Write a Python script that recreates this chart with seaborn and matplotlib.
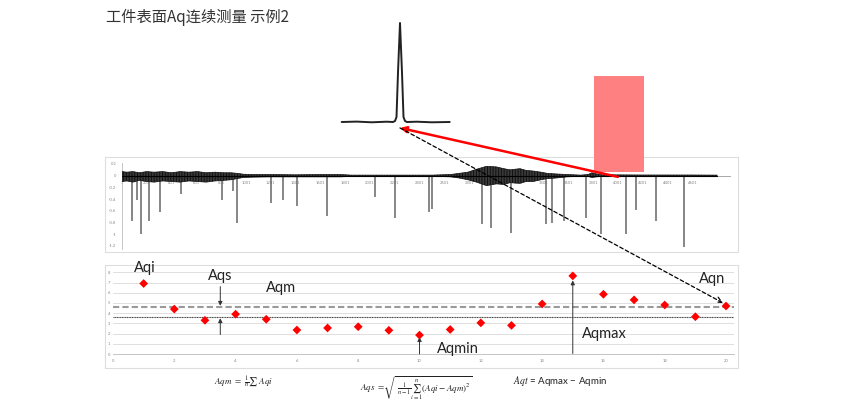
import numpy as np
import pandas as pd
import seaborn as sns
import matplotlib
matplotlib.use("Agg")
import matplotlib.pyplot as plt
from matplotlib.patches import Rectangle, ConnectionPatch

# ---------------- data ----------------
title = "工件表面Aq连续测量 示例2"

# zoomed single peak (inset), x in samples, y normalised height
peak_x = [0, 15, 30, 45, 51.3, 53.3, 54.8, 56.3, 58.3, 60.3, 61.8, 63.3, 65.3, 75, 90, 108]
peak_y = [0, 0.004, -0.003, 0.003, 0.0, 0.01, 0.05, 0.5, 1.0, 0.5, 0.05, 0.01, 0.0, 0.003, -0.003, 0.0]

# continuous trace: envelope of the noise band
noise_x = [1, 40, 90, 140, 200, 260, 330, 400, 470, 540, 610, 680, 750, 820, 880, 930, 980,
           1050, 1200, 1400, 1600, 1760, 1850, 2200, 2500, 2650, 2720, 2790, 2860, 2940, 3020,
           3080, 3130, 3210, 3260, 3315, 3380, 3430, 3500, 3590, 3700, 3760, 3790, 3830, 3870,
           4200, 4600, 4800]
noise_hi = [0.07, 0.06, 0.07, 0.05, 0.07, 0.06, 0.07, 0.05, 0.07, 0.06, 0.07, 0.05, 0.06, 0.05,
            0.05, 0.04, 0.025, 0.02, 0.02, 0.015, 0.02, 0.02, 0.01, 0.01, 0.01, 0.02, 0.04, 0.06,
            0.11, 0.16, 0.15, 0.12, 0.10, 0.12, 0.09, 0.08, 0.06, 0.04, 0.03, 0.02, 0.01, 0.02,
            0.05, 0.03, 0.015, 0.012, 0.012, 0.01]
noise_lo = [-0.10, -0.09, -0.11, -0.08, -0.10, -0.11, -0.09, -0.10, -0.11, -0.09, -0.10, -0.11,
            -0.09, -0.08, -0.07, -0.05, -0.03, -0.025, -0.02, -0.02, -0.02, -0.02, -0.012, -0.01,
            -0.01, -0.02, -0.04, -0.07, -0.11, -0.17, -0.14, -0.15, -0.12, -0.13, -0.10, -0.10,
            -0.07, -0.05, -0.04, -0.02, -0.01, -0.015, -0.03, -0.02, -0.012, -0.012, -0.012, -0.01]

# negative spikes (position, depth)
spike_x = [82, 122, 154, 219, 307, 477, 807, 895, 928, 1202, 1299, 1412, 1654, 2041, 2202,
           2475, 2501, 2904, 2975, 3138, 3418, 3469, 3563, 3743, 3864, 4066, 4144, 4305, 4533]
spike_y = [-0.78, -0.41, -1.0, -0.77, -0.62, -0.31, -0.41, -0.26, -0.8, -0.46, -0.41, -0.51,
           -0.69, -0.36, -0.73, -0.62, -0.57, -0.82, -0.89, -0.97, -0.82, -0.8, -0.78, -0.72,
           -0.99, -0.99, -0.58, -0.78, -1.22]
signal_xticks = list(range(1, 4602, 200))
signal_yticks = [0.2, 0, -0.2, -0.4, -0.6, -0.8, -1, -1.2]
signal_ylabels = ["0.2", "0", "-0.2", "-0.4", "-0.6", "-0.8", "-1", "-1.2"]
highlight = (3808, 4210)

# Aq per measurement
aq_n = list(range(1, 21))
aqi = [6.9, 4.4, 3.3, 3.9, 3.4, 2.35, 2.55, 2.67, 2.32, 1.85,
       2.4, 3.05, 2.8, 4.9, 7.65, 5.85, 5.3, 4.8, 3.65, 4.7]
aqm_level = 3.65
aqs_level = 4.65

# ---------------- figure ----------------
sns.set_style("white")
plt.rcParams["font.family"] = ["Lato", "Noto Sans CJK SC", "DejaVu Sans"]
plt.rcParams["mathtext.fontset"] = "stix"
plt.rcParams["hatch.linewidth"] = 0.7
plt.rcParams["hatch.color"] = "black"

W, H = 850, 411
fig = plt.figure(figsize=(W / 100, H / 100), dpi=100)


def add_ax(left, right, top, bottom):
    return fig.add_axes([left / W, 1 - bottom / H, (right - left) / W, (bottom - top) / H])


# panel frames
for (x0, y0, x1, y1) in [(105, 157, 738, 252), (105, 265, 738, 368)]:
    fig.add_artist(Rectangle((x0 / W, 1 - y1 / H), (x1 - x0) / W, (y1 - y0) / H,
                             transform=fig.transFigure, fill=False, ec="#dddddd", lw=0.8, zorder=-1))

fig.text(106 / W, 1 - 17 / H, title, fontsize=11, color="#333333", va="center",
         family=["Noto Sans CJK SC", "DejaVu Sans"])

# ---- inset peak ----
ax_pk = add_ax(338, 452, 18, 132)
sns.lineplot(x=peak_x, y=peak_y, ax=ax_pk, color="#222222", lw=1.4)
ax_pk.set_xlim(-3.7, 110.3)
ax_pk.set_ylim(-0.101, 1.0505)
ax_pk.axis("off")

# ---- continuous signal ----
ax_sig = add_ax(122, 730, 162.8, 248.9)
ax_sig.set_xlim(1, 4904)
ax_sig.set_ylim(-1.25, 0.22)
ax_sig.add_patch(Rectangle((highlight[0], 0.06), highlight[1] - highlight[0], 1.65,
                           color="#ff8080", lw=0, clip_on=False, zorder=1))
ax_sig.vlines(spike_x, 0, spike_y, color="#666666", lw=1.1, zorder=2)
ax_sig.fill_between(noise_x, noise_lo, noise_hi, facecolor="#3a3a3a", edgecolor="#111111",
                    hatch="||||||", lw=0.5, zorder=3)
ax_sig.plot([1, 4800], [0, 0], color="black", lw=0.8, zorder=3)
for s in ["top", "right"]:
    ax_sig.spines[s].set_visible(False)
ax_sig.spines["bottom"].set_position(("data", 0))
ax_sig.spines["bottom"].set_color("#999999")
ax_sig.spines["bottom"].set_linewidth(0.6)
ax_sig.spines["left"].set_color("#bbbbbb")
ax_sig.spines["left"].set_linewidth(0.6)
ax_sig.set_xticks(signal_xticks)
ax_sig.set_xticklabels([str(v) for v in signal_xticks])
ax_sig.set_yticks(signal_yticks)
ax_sig.set_yticklabels(signal_ylabels)
ax_sig.tick_params(axis="both", labelsize=3, colors="#888888", length=1.5, width=0.4, pad=2.5)

# ---- Aq scatter ----
ax_sc = add_ax(113, 733.7, 272.3, 354)
ax_sc.set_xlim(0, 20.25)
ax_sc.set_ylim(0, 8)
ax_sc.set_yticks(range(0, 9))
ax_sc.set_xticks(range(0, 21, 2))
ax_sc.grid(axis="y", color="#d9d9d9", lw=0.6)
ax_sc.grid(axis="x", visible=False)
for s in ["top", "right", "left"]:
    ax_sc.spines[s].set_visible(False)
ax_sc.spines["bottom"].set_color("#bbbbbb")
ax_sc.spines["bottom"].set_linewidth(0.6)
ax_sc.tick_params(axis="both", labelsize=3, colors="#888888", length=1.5, width=0.4, pad=2)
ax_sc.tick_params(axis="y", length=0)

ax_sc.axhline(aqs_level, color="#9a9a9a", lw=1.5, ls=(0, (3, 1.5)), zorder=2)
ax_sc.axhline(aqm_level, color="#444444", lw=0.8, ls=(0, (1, 0.5)), zorder=2)
sns.scatterplot(x=aq_n, y=aqi, ax=ax_sc, marker="D", color="red", s=20,
                edgecolor="none", zorder=5, clip_on=False)

arr = dict(arrowstyle="-|>", color="#333333", lw=0.7, mutation_scale=6, shrinkA=0, shrinkB=0)
ax_sc.annotate("", xy=(3.5, 4.72), xytext=(3.5, 6.6), arrowprops=arr)
ax_sc.annotate("", xy=(3.5, 3.5), xytext=(3.5, 1.9), arrowprops=arr)
ax_sc.annotate("", xy=(10, 1.65), xytext=(10, 0.0), arrowprops=arr, annotation_clip=False)
ax_sc.annotate("", xy=(15, 7.2), xytext=(15, 0.05), arrowprops=arr)

lab = dict(fontsize=10.5, color="#222222", ha="center", va="center", clip_on=False)
ax_sc.text(1.04, 8.4, "Aqi", **lab)
ax_sc.text(3.49, 7.64, "Aqs", **lab)
ax_sc.text(5.48, 6.46, "Aqm", **lab)
ax_sc.text(11.26, 0.49, "Aqmin", **lab)
ax_sc.text(16.02, 1.96, "Aqmax", **lab)
ax_sc.text(19.54, 7.35, "Aqn", **lab)

# ---- connecting arrows ----
red = ConnectionPatch(xyA=(4000, -0.02), coordsA=ax_sig.transData,
                      xyB=(58.3, -0.06), coordsB=ax_pk.transData,
                      arrowstyle="-|>", color="red", lw=1.8, mutation_scale=9,
                      shrinkA=0, shrinkB=0, zorder=6)
fig.add_artist(red)
dash = ConnectionPatch(xyA=(58.3, -0.06), coordsA=ax_pk.transData,
                       xyB=(19.9, 5.0), coordsB=ax_sc.transData,
                       arrowstyle="->", color="black", lw=0.9, ls=(0, (3, 2)),
                       mutation_scale=10, shrinkA=0, shrinkB=0, zorder=6)
fig.add_artist(dash)

# ---- formulas ----
fig.text(244 / W, 1 - 381 / H, r"$Aqm\ =\ \frac{1}{n}\sum\ Aqi$", fontsize=6.5,
         ha="center", va="center", color="#222222")
fig.text(416 / W, 1 - 389 / H, r"$Aqs\ =\!\sqrt{\ \frac{1}{n-1}\sum_{i=1}^{n}(Aqi-Aqm)^2}$",
         fontsize=6.5, ha="center", va="center", color="#222222")
fig.text(560 / W, 1 - 381 / H, r"$Aqt$ = Aqmax − Aqmin", fontsize=7,
         ha="center", va="center", color="#222222")

fig.savefig("out.png", dpi=100)
